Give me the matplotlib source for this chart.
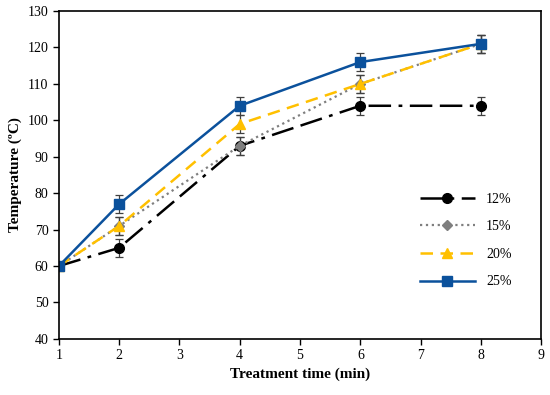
import numpy as np
import matplotlib
matplotlib.use('Agg')
import matplotlib.pyplot as plt

plt.rcParams['font.family'] = ['Liberation Serif', 'DejaVu Serif']

# data
time_min = [1, 2, 4, 6, 8]
t12 = [60, 65, 93, 104, 104]
t15 = [60, 71, 93, 110, 121]
t20 = [60, 71, 99, 110, 121]
t25 = [60, 77, 104, 116, 121]
err = [0, 2.5, 2.5, 2.5, 2.5]
labels = ['12%', '15%', '20%', '25%']

fig = plt.figure(figsize=(5.5, 3.95), dpi=100)
ax = fig.add_axes([0.107, 0.142, 0.877, 0.830])

ekw = dict(ecolor='#404040', elinewidth=0.9, capsize=3, capthick=0.9)
c1 = ax.errorbar(time_min, t12, yerr=err, color='black', marker='o', ms=7,
                 lw=1.8, dashes=(9, 3, 1.5, 3, 9, 3), **ekw)
c2 = ax.errorbar(time_min, t15, yerr=err, color='#7f7f7f', marker='D', ms=5,
                 lw=1.6, ls=':', **ekw)
c3 = ax.errorbar(time_min, t20, yerr=err, color='#ffc000', marker='^', ms=7,
                 lw=1.8, dashes=(5, 3), **ekw)
c4 = ax.errorbar(time_min, t25, yerr=err, color='#0b519c', marker='s', ms=7,
                 lw=1.8, ls='-', **ekw)

ax.set_xlim(1, 9)
ax.set_ylim(40, 130)
ax.set_xticks(range(1, 10))
ax.set_yticks(range(40, 131, 10))
ax.tick_params(labelsize=10, direction='out', length=4, width=1)
for s in ax.spines.values():
    s.set_linewidth(1.2)

ax.set_xlabel('Treatment time (min)', fontsize=11, fontweight='bold')
ax.set_ylabel('Temperature (ºC)', fontsize=11, fontweight='bold')

ax.legend([c[0] for c in (c1, c2, c3, c4)], labels,
          loc='center right', bbox_to_anchor=(0.965, 0.30), frameon=False,
          fontsize=10, handlelength=4, labelspacing=1.05)

fig.savefig('out.png', dpi=100)
